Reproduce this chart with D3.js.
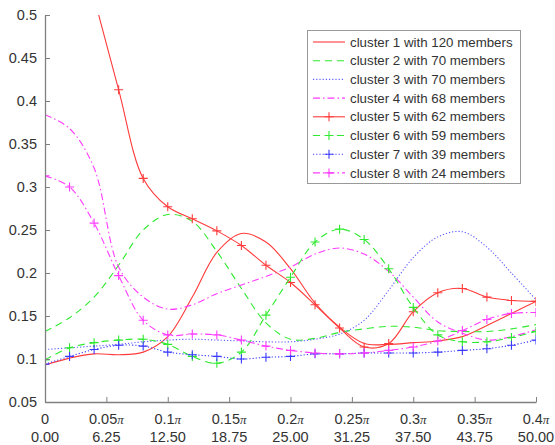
<!DOCTYPE html>
<html>
<head>
<meta charset="utf-8">
<script src="https://cdn.jsdelivr.net/npm/d3@7"></script>
<style>
  body { margin: 0; background: #fff; }
  svg { display: block; font-family: Arial, "Liberation Sans", Helvetica, sans-serif; }
</style>
</head>
<body>
<svg id="chart" width="555" height="445"></svg>
<script>
// sample positions along x (0 .. 50)
const xValues = [0, 2.5, 5, 7.5, 10, 12.5, 15, 17.5, 20, 22.5, 25, 27.5, 30, 32.5, 35, 37.5, 40, 42.5, 45, 47.5, 50];

const cluster1 = [0.093, 0.101, 0.106, 0.105, 0.108, 0.126, 0.172, 0.224, 0.246, 0.236, 0.205, 0.165, 0.137, 0.118, 0.117, 0.119, 0.121, 0.126, 0.139, 0.153, 0.167];
const cluster2 = [0.132, 0.148, 0.172, 0.209, 0.250, 0.268, 0.260, 0.225, 0.182, 0.142, 0.123, 0.124, 0.131, 0.135, 0.138, 0.137, 0.133, 0.132, 0.132, 0.135, 0.140];
const cluster3 = [0.111, 0.113, 0.115, 0.117, 0.120, 0.122, 0.123, 0.122, 0.121, 0.120, 0.120, 0.123, 0.129, 0.145, 0.180, 0.218, 0.242, 0.248, 0.230, 0.200, 0.169];
const cluster4 = [0.384, 0.368, 0.322, 0.207, 0.172, 0.158, 0.163, 0.176, 0.186, 0.196, 0.207, 0.222, 0.229, 0.222, 0.202, 0.172, 0.143, 0.130, 0.122, 0.126, 0.134];
const cluster5 = [0.740, 0.630, 0.520, 0.413, 0.310, 0.277, 0.263, 0.249, 0.232, 0.209, 0.189, 0.163, 0.136, 0.114, 0.118, 0.155, 0.177, 0.182, 0.172, 0.168, 0.167];
const cluster6 = [0.099, 0.113, 0.119, 0.122, 0.123, 0.117, 0.103, 0.095, 0.108, 0.151, 0.195, 0.236, 0.251, 0.239, 0.205, 0.160, 0.128, 0.120, 0.120, 0.125, 0.132];
const cluster7 = [0.094, 0.103, 0.111, 0.116, 0.115, 0.108, 0.105, 0.103, 0.100, 0.102, 0.103, 0.106, 0.106, 0.107, 0.107, 0.107, 0.108, 0.110, 0.112, 0.116, 0.122];
const cluster8 = [0.313, 0.300, 0.258, 0.197, 0.145, 0.128, 0.129, 0.128, 0.122, 0.115, 0.110, 0.107, 0.106, 0.107, 0.110, 0.114, 0.121, 0.133, 0.146, 0.153, 0.154];

const memberCounts = [120, 70, 70, 68, 62, 59, 39, 24];

const xTicks = [0, 6.25, 12.5, 18.75, 25, 31.25, 37.5, 43.75, 50];
const xPiLabels = ['0', '0.05', '0.1', '0.15', '0.2', '0.25', '0.3', '0.35', '0.4'];
const xNumLabels = ['0.00', '6.25', '12.50', '18.75', '25.00', '31.25', '37.50', '43.75', '50.00'];
const yTicks = [0.05, 0.1, 0.15, 0.2, 0.25, 0.3, 0.35, 0.4, 0.45, 0.5];

const seriesStyles = [
    { values: cluster1, color: '#ff3b3b', dash: null, marker: false },
    { values: cluster2, color: '#2eea2e', dash: '7,5', marker: false },
    { values: cluster3, color: '#5a5aff', dash: '1.2,2', marker: false },
    { values: cluster4, color: '#ff3bff', dash: '7,3,1.5,3', marker: false },
    { values: cluster5, color: '#ff3b3b', dash: null, marker: true },
    { values: cluster6, color: '#2eea2e', dash: '7,5', marker: true },
    { values: cluster7, color: '#3a3aff', dash: '1.2,2', marker: true },
    { values: cluster8, color: '#ff3bff', dash: '7,3,1.5,3', marker: true },
];

const svg = d3.select('#chart');
const plotLeft = 45, plotRight = 536, plotTop = 15, plotBottom = 402;

const xs = d3.scaleLinear().domain([0, 50]).range([plotLeft, plotRight]);
const ys = d3.scaleLinear().domain([0.05, 0.5]).range([plotBottom, plotTop]);

svg.append('defs').append('clipPath').attr('id', 'plotClip')
    .append('rect')
    .attr('x', plotLeft).attr('y', plotTop)
    .attr('width', plotRight - plotLeft).attr('height', plotBottom - plotTop);

const plusPath = (s) => `M${-s},0H${s}M0,${-s}V${s}`;

const line = d3.line()
    .x((d, i) => xs(xValues[i]))
    .y(d => ys(d))
    .curve(d3.curveCatmullRom.alpha(0.5));

const plot = svg.append('g').attr('clip-path', 'url(#plotClip)');

seriesStyles.forEach((s) => {
    plot.append('path')
        .attr('d', line(s.values))
        .attr('fill', 'none')
        .attr('stroke', s.color)
        .attr('stroke-width', 1.1)
        .attr('stroke-dasharray', s.dash);
    if (s.marker) {
        plot.append('g')
            .selectAll('path')
            .data(s.values)
            .enter()
            .append('path')
            .attr('transform', (d, i) => `translate(${xs(xValues[i])},${ys(d)})`)
            .attr('d', plusPath(4.5))
            .attr('stroke', s.color)
            .attr('stroke-width', 1.1)
            .attr('fill', 'none');
    }
});

// axes (MATLAB style, ticks pointing inward)
const yAxis = svg.append('g')
    .attr('transform', `translate(${plotLeft},0)`)
    .call(d3.axisLeft(ys).tickValues(yTicks).tickFormat(d3.format('')).tickSizeInner(-5).tickSizeOuter(0).tickPadding(8));

const xAxis = svg.append('g')
    .attr('transform', `translate(0,${plotBottom})`)
    .call(d3.axisBottom(xs).tickValues(xTicks).tickFormat('').tickSizeInner(-5).tickSizeOuter(0));

[yAxis, xAxis].forEach(ax => {
    ax.select('.domain').attr('stroke', '#808080').attr('stroke-width', 1.3);
    ax.selectAll('.tick line').attr('stroke', '#808080');
});
yAxis.selectAll('.tick text')
    .attr('fill', '#333')
    .style('font-size', '14.5px');

const xLabels = svg.append('g');
xTicks.forEach((t, i) => {
    const label = xLabels.append('text')
        .attr('x', xs(t))
        .attr('y', 424)
        .attr('text-anchor', 'middle')
        .attr('fill', '#333')
        .style('font-size', '14.5px')
        .text(xPiLabels[i]);
    if (i > 0) {
        label.append('tspan')
            .style('font-family', '"Liberation Serif", "Times New Roman", serif')
            .style('font-style', 'italic')
            .style('font-size', '13px')
            .text('\u03c0');
    }
    xLabels.append('text')
        .attr('x', xs(t))
        .attr('y', 442)
        .attr('text-anchor', 'middle')
        .attr('fill', '#333')
        .style('font-size', '14.5px')
        .text(xNumLabels[i]);
});

// legend
const legend = svg.append('g');
legend.append('rect')
    .attr('x', 307.5).attr('y', 30.5)
    .attr('width', 213).attr('height', 153)
    .attr('fill', '#fff')
    .attr('stroke', '#999')
    .attr('stroke-width', 1);

seriesStyles.forEach((s, i) => {
    const y = 42 + i * 18.7;
    legend.append('line')
        .attr('x1', 313).attr('x2', 345)
        .attr('y1', y).attr('y2', y)
        .attr('stroke', s.color)
        .attr('stroke-width', 1.1)
        .attr('stroke-dasharray', s.dash);
    if (s.marker) {
        legend.append('path')
            .attr('transform', `translate(329,${y})`)
            .attr('d', plusPath(4.5))
            .attr('stroke', s.color)
            .attr('stroke-width', 1.1);
    }
    legend.append('text')
        .attr('x', 350)
        .attr('y', y)
        .attr('dy', '0.35em')
        .attr('fill', '#333')
        .style('font-size', '13.3px')
        .text(`cluster ${i + 1} with ${memberCounts[i]} members`);
});
</script>
</body>
</html>
